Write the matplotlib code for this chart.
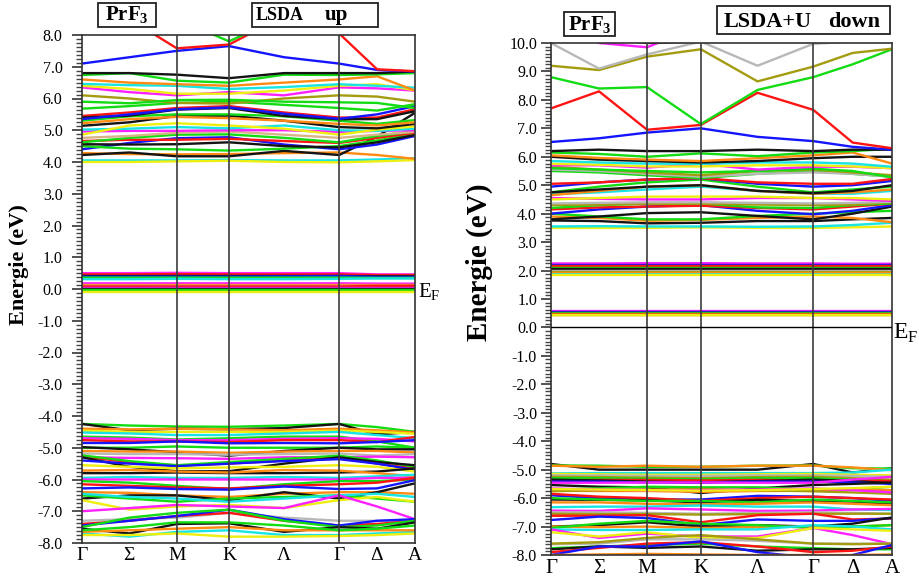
import matplotlib
matplotlib.use('Agg')
import matplotlib.pyplot as plt
from matplotlib.patches import Rectangle
from matplotlib.ticker import MultipleLocator, FormatStrFormatter

plt.rcParams['font.family'] = ['Liberation Serif', 'DejaVu Serif']
plt.rcParams['mathtext.fontset'] = 'custom'
plt.rcParams['mathtext.rm'] = 'Liberation Serif'
plt.rcParams['mathtext.bf'] = 'Liberation Serif:bold'

# k-path: Gamma - Sigma - M - K - Lambda - Gamma - Delta - A
k_labels = ['Γ', 'Σ', 'M', 'K', 'Λ', 'Γ', 'Δ', 'A']
k_up = [0.0, 0.5, 1.0, 1.55, 2.13, 2.71, 3.11, 3.51]
k_dn = [0.0, 0.5, 1.0, 1.56, 2.15, 2.73, 3.14, 3.55]
sym_idx = [2, 3, 5]

palette = {'k': '#141414', 'r': '#ff1414', 'g': '#14dc14', 'b': '#1414ff',
           'c': '#18e4e4', 'm': '#ff20ff', 'y': '#eeee10', 'o': '#ff8a14',
           'v': '#a49c10', 's': '#b8b8b8', 't': '#d8b488'}

# ---- LSDA spin up (eV) ----
up_bands = [
    # conduction
    [4.05, 4.05, 4.05, 4.06, 4.05, 4.05, 4.08, 4.12],
    [4.00, 4.00, 4.02, 4.04, 4.00, 3.99, 4.02, 4.06],
    [4.28, 4.25, 4.24, 4.25, 4.28, 4.30, 4.22, 4.10],
    [4.22, 4.30, 4.18, 4.18, 4.35, 4.22, 4.80, 5.55],
    [4.40, 4.60, 4.75, 4.78, 4.55, 4.40, 4.55, 4.82],
    [4.50, 4.42, 4.40, 4.36, 4.42, 4.50, 4.68, 4.88],
    [4.56, 4.55, 4.56, 4.62, 4.50, 4.46, 4.62, 4.85],
    [4.66, 4.70, 4.70, 4.73, 4.66, 4.60, 4.76, 4.92],
    [4.62, 4.76, 4.86, 4.87, 4.76, 4.62, 4.82, 4.96],
    [4.76, 4.82, 4.92, 4.96, 4.86, 4.76, 4.86, 4.95],
    [4.96, 4.98, 4.98, 5.00, 5.00, 4.95, 4.98, 5.00],
    [5.02, 5.05, 5.10, 5.06, 5.15, 5.00, 4.98, 5.05],
    [4.86, 5.15, 5.22, 5.15, 5.05, 4.86, 5.02, 5.12],
    [5.14, 5.25, 5.45, 5.46, 5.30, 5.10, 5.06, 5.20],
    [5.30, 5.44, 5.50, 5.50, 5.44, 5.30, 5.20, 5.32],
    [5.22, 5.35, 5.42, 5.38, 5.30, 5.20, 5.15, 5.25],
    [5.45, 5.56, 5.70, 5.76, 5.56, 5.40, 5.40, 5.66],
    [5.40, 5.46, 5.65, 5.70, 5.45, 5.35, 5.35, 5.60],
    [5.35, 5.50, 5.66, 5.72, 5.52, 5.36, 5.50, 5.76],
    [5.68, 5.76, 5.86, 5.90, 5.80, 5.70, 5.62, 5.82],
    [6.10, 6.00, 5.86, 5.84, 6.00, 6.10, 6.06, 5.90],
    [5.90, 5.85, 5.95, 5.96, 5.90, 5.88, 5.86, 5.70],
    [6.35, 6.20, 6.10, 6.20, 6.10, 6.35, 6.32, 6.25],
    [6.40, 6.30, 6.15, 6.15, 6.25, 6.40, 6.45, 6.26],
    [6.46, 6.42, 6.40, 6.30, 6.36, 6.45, 6.40, 6.34],
    [6.60, 6.50, 6.45, 6.40, 6.50, 6.60, 6.70, 6.25],
    [6.74, 6.80, 6.56, 6.50, 6.75, 6.74, 6.76, 6.80],
    [6.80, 6.80, 6.75, 6.64, 6.80, 6.80, 6.80, 6.85],
    [7.10, 7.30, 7.50, 7.65, 7.30, 7.10, 6.90, 6.85],
    [9.20, 8.50, 7.58, 7.70, 8.60, 9.30, 9.30, 9.30],
    [9.00, 8.90, 8.50, 7.80, 8.60, 9.00, 9.00, 9.00],
    [9.60, 9.60, 9.40, 9.40, 8.80, 8.05, 6.92, 6.86],
    # 4f states around E_F
    [0.50, 0.50, 0.51, 0.50, 0.50, 0.50, 0.46, 0.46],
    [0.46, 0.46, 0.47, 0.46, 0.46, 0.46, 0.44, 0.44],
    [0.41, 0.41, 0.41, 0.41, 0.41, 0.41, 0.40, 0.40],
    [0.39, 0.39, 0.39, 0.39, 0.40, 0.41, 0.38, 0.38],
    [0.36, 0.36, 0.36, 0.36, 0.36, 0.36, 0.35, 0.35],
    [0.31, 0.31, 0.32, 0.31, 0.31, 0.32, 0.33, 0.33],
    [0.18, 0.18, 0.18, 0.18, 0.18, 0.18, 0.17, 0.17],
    [0.13, 0.13, 0.13, 0.13, 0.13, 0.13, 0.13, 0.13],
    [0.10, 0.10, 0.10, 0.10, 0.10, 0.10, 0.10, 0.10],
    [0.08, 0.08, 0.08, 0.08, 0.08, 0.08, 0.10, 0.10],
    [0.04, 0.04, 0.04, 0.04, 0.04, 0.04, 0.04, 0.04],
    [0.00, 0.00, 0.00, 0.00, 0.00, 0.00, 0.00, 0.00],
    [-0.03, -0.03, -0.03, -0.03, -0.03, -0.03, -0.03, -0.03],
    [-0.08, -0.08, -0.08, -0.08, -0.08, -0.08, -0.08, -0.08],
    # valence
    [-4.25, -4.30, -4.33, -4.34, -4.30, -4.25, -4.35, -4.50],
    [-4.25, -4.45, -4.40, -4.42, -4.38, -4.25, -4.58, -4.50],
    [-4.40, -4.42, -4.40, -4.42, -4.45, -4.40, -4.45, -4.52],
    [-4.46, -4.50, -4.50, -4.50, -4.50, -4.46, -4.50, -4.56],
    [-4.52, -4.55, -4.60, -4.60, -4.55, -4.50, -4.60, -4.70],
    [-4.65, -4.68, -4.74, -4.70, -4.65, -4.65, -4.80, -5.00],
    [-4.70, -4.72, -4.76, -4.76, -4.72, -4.70, -4.72, -4.80],
    [-4.76, -4.80, -4.80, -4.82, -4.76, -4.76, -4.82, -4.66],
    [-4.85, -4.85, -4.80, -4.86, -4.85, -4.86, -4.82, -4.76],
    [-5.00, -5.00, -4.96, -5.00, -5.00, -5.00, -4.96, -5.00],
    [-4.98, -5.05, -5.14, -5.25, -5.10, -5.00, -5.05, -5.05],
    [-5.10, -5.12, -5.12, -5.16, -5.12, -5.10, -5.10, -5.15],
    [-5.18, -5.20, -5.20, -5.22, -5.20, -5.18, -5.25, -5.20],
    [-5.30, -5.32, -5.33, -5.35, -5.30, -5.30, -5.28, -5.30],
    [-5.28, -5.45, -5.56, -5.50, -5.40, -5.30, -5.50, -5.65],
    [-5.24, -5.42, -5.55, -5.45, -5.35, -5.25, -5.40, -5.60],
    [-5.30, -5.60, -5.74, -5.74, -5.50, -5.30, -5.45, -5.55],
    [-5.40, -5.50, -5.58, -5.50, -5.42, -5.36, -5.50, -5.70],
    [-5.55, -5.60, -5.65, -5.62, -5.60, -5.55, -5.60, -5.75],
    [-5.80, -5.80, -5.78, -5.80, -5.80, -5.78, -5.75, -5.65],
    [-5.72, -5.70, -5.75, -5.78, -5.70, -5.72, -5.80, -5.90],
    [-5.95, -5.92, -5.95, -5.95, -5.92, -5.95, -5.90, -5.85],
    [-6.00, -6.00, -6.00, -6.00, -6.00, -6.00, -5.95, -5.95],
    [-6.05, -6.10, -6.20, -6.30, -6.15, -6.05, -6.05, -6.00],
    [-6.15, -6.20, -6.25, -6.28, -6.20, -6.15, -6.10, -5.95],
    [-6.28, -6.25, -6.30, -6.32, -6.22, -6.30, -6.28, -6.02],
    [-6.40, -6.42, -6.50, -6.55, -6.45, -6.40, -6.40, -6.45],
    [-6.60, -6.50, -6.50, -6.65, -6.40, -6.60, -6.40, -6.12],
    [-6.50, -6.60, -6.70, -6.60, -6.55, -6.50, -6.60, -6.70],
    [-6.65, -6.95, -6.85, -6.80, -6.90, -6.65, -6.55, -6.70],
    [-6.45, -6.55, -6.60, -6.70, -6.60, -6.50, -6.45, -6.55],
    [-7.00, -6.90, -6.80, -6.85, -6.90, -6.50, -6.85, -7.25],
    [-7.30, -7.25, -7.20, -7.05, -7.20, -7.30, -7.30, -7.30],
    [-7.40, -7.30, -7.15, -7.05, -7.30, -7.45, -7.40, -7.30],
    [-7.45, -7.30, -7.15, -6.95, -7.25, -7.45, -7.30, -7.25],
    [-7.50, -7.20, -7.05, -6.95, -7.30, -7.50, -7.45, -7.30],
    [-7.55, -7.70, -7.40, -7.38, -7.65, -7.50, -7.55, -7.35],
    [-7.70, -7.80, -7.65, -7.60, -7.75, -7.75, -7.70, -7.65],
    [-7.75, -7.75, -7.70, -7.80, -7.80, -7.78, -7.75, -7.70],
    [-7.65, -7.60, -7.55, -7.50, -7.60, -7.60, -7.60, -7.60],
    [-7.60, -7.50, -7.35, -7.35, -7.45, -7.60, -7.55, -7.45],
]
up_colors = (
    'c y o k b g k r g t m c y k g o r k b g v g m y c o g k b r g r'.split()
    + 'm r k b g c m o s r m k g y'.split()
    + 'g k o y c g m r b g k o s m r g k b y k o c m g r b o k g y c m s r b g k c y o g'.split()
)

# ---- LSDA+U spin down (eV) ----
dn_bands = [
    # conduction
    [3.50, 3.50, 3.50, 3.52, 3.50, 3.50, 3.52, 3.55],
    [3.55, 3.56, 3.55, 3.55, 3.54, 3.55, 3.60, 3.68],
    [3.76, 3.74, 3.66, 3.68, 3.74, 3.74, 3.80, 3.85],
    [3.90, 3.85, 3.75, 3.78, 3.85, 3.90, 3.85, 3.70],
    [4.00, 3.90, 3.80, 3.80, 3.92, 4.00, 4.05, 4.10],
    [3.80, 3.90, 4.02, 4.05, 3.92, 3.80, 4.00, 4.25],
    [4.00, 4.15, 4.25, 4.30, 4.10, 3.98, 4.10, 4.30],
    [4.15, 4.22, 4.25, 4.28, 4.20, 4.15, 4.25, 4.35],
    [4.20, 4.30, 4.35, 4.36, 4.22, 4.20, 4.30, 4.36],
    [4.30, 4.32, 4.35, 4.35, 4.32, 4.30, 4.32, 4.40],
    [4.36, 4.38, 4.40, 4.40, 4.38, 4.36, 4.38, 4.42],
    [4.55, 4.52, 4.50, 4.50, 4.55, 4.55, 4.50, 4.45],
    [4.50, 4.55, 4.60, 4.60, 4.60, 4.55, 4.55, 4.50],
    [4.68, 4.75, 4.85, 4.95, 4.80, 4.70, 4.70, 4.80],
    [4.65, 4.80, 4.95, 5.00, 4.80, 4.70, 4.75, 4.85],
    [4.75, 4.95, 5.10, 5.20, 4.95, 4.75, 4.85, 4.95],
    [4.75, 4.85, 4.95, 5.00, 4.80, 4.72, 4.80, 5.00],
    [4.95, 5.10, 5.20, 5.25, 5.05, 4.95, 5.00, 5.15],
    [5.05, 5.10, 5.20, 5.25, 5.10, 5.05, 5.05, 5.22],
    [5.50, 5.45, 5.35, 5.25, 5.40, 5.50, 5.40, 5.30],
    [5.55, 5.50, 5.40, 5.30, 5.40, 5.45, 5.40, 5.30],
    [5.65, 5.55, 5.45, 5.35, 5.50, 5.55, 5.45, 5.35],
    [5.60, 5.55, 5.50, 5.45, 5.50, 5.58, 5.50, 5.28],
    [5.70, 5.70, 5.62, 5.75, 5.55, 5.65, 5.65, 5.60],
    [5.75, 5.72, 5.66, 5.66, 5.70, 5.70, 5.66, 5.60],
    [5.85, 5.80, 5.76, 5.75, 5.80, 5.80, 5.76, 5.65],
    [6.00, 5.90, 5.85, 5.80, 5.85, 5.95, 6.00, 6.00],
    [6.05, 5.96, 5.90, 5.85, 5.95, 6.05, 6.15, 5.76],
    [6.15, 6.10, 6.00, 6.12, 6.02, 6.15, 6.20, 6.28],
    [6.20, 6.25, 6.20, 6.20, 6.25, 6.20, 6.25, 6.25],
    [6.52, 6.65, 6.85, 7.00, 6.70, 6.55, 6.35, 6.25],
    [7.70, 8.30, 6.95, 7.12, 8.25, 7.65, 6.50, 6.30],
    [8.80, 8.40, 8.45, 7.15, 8.35, 8.80, 9.25, 9.78],
    [9.20, 9.05, 9.52, 9.78, 8.65, 9.17, 9.65, 9.80],
    [10.00, 9.10, 9.60, 10.05, 9.20, 9.97, 10.05, 10.20],
    [10.80, 10.00, 9.85, 10.60, 10.80, 10.80, 10.80, 10.80],
    [10.30, 10.15, 10.00, 10.05, 10.30, 10.30, 10.30, 10.30],
    # localised 4f states
    [2.25, 2.25, 2.26, 2.26, 2.25, 2.25, 2.24, 2.24],
    [2.20, 2.20, 2.20, 2.20, 2.20, 2.20, 2.20, 2.20],
    [2.15, 2.15, 2.15, 2.15, 2.15, 2.15, 2.15, 2.15],
    [2.10, 2.10, 2.10, 2.10, 2.10, 2.10, 2.10, 2.10],
    [2.05, 2.05, 2.05, 2.05, 2.05, 2.05, 2.05, 2.05],
    [2.00, 2.00, 2.00, 2.00, 2.00, 2.00, 2.00, 2.00],
    [1.95, 1.95, 1.95, 1.95, 1.95, 1.95, 1.95, 1.95],
    [1.90, 1.90, 1.90, 1.90, 1.90, 1.90, 1.90, 1.90],
    [1.87, 1.87, 1.87, 1.87, 1.87, 1.87, 1.86, 1.86],
    [1.85, 1.85, 1.85, 1.85, 1.85, 1.85, 1.85, 1.85],
    [0.58, 0.58, 0.58, 0.58, 0.58, 0.58, 0.58, 0.58],
    [0.55, 0.55, 0.55, 0.55, 0.55, 0.55, 0.55, 0.55],
    [0.52, 0.52, 0.52, 0.52, 0.52, 0.52, 0.52, 0.52],
    [0.50, 0.50, 0.50, 0.50, 0.50, 0.50, 0.50, 0.50],
    [0.48, 0.48, 0.48, 0.48, 0.48, 0.48, 0.48, 0.48],
    [0.45, 0.45, 0.45, 0.45, 0.45, 0.45, 0.45, 0.45],
    [0.43, 0.43, 0.43, 0.43, 0.43, 0.43, 0.43, 0.43],
    [0.42, 0.42, 0.42, 0.42, 0.42, 0.42, 0.42, 0.42],
    # valence
    [-4.80, -5.00, -5.00, -5.00, -5.00, -4.80, -5.10, -4.95],
    [-4.85, -4.86, -4.90, -4.90, -4.86, -4.85, -4.95, -4.96],
    [-4.86, -4.90, -4.86, -4.90, -4.86, -4.86, -4.92, -5.02],
    [-5.13, -5.12, -5.12, -5.12, -5.12, -5.12, -5.10, -5.00],
    [-5.15, -5.16, -5.18, -5.18, -5.16, -5.15, -5.18, -5.20],
    [-5.20, -5.20, -5.22, -5.22, -5.20, -5.20, -5.22, -5.25],
    [-5.25, -5.26, -5.28, -5.30, -5.26, -5.25, -5.30, -5.35],
    [-5.30, -5.30, -5.32, -5.34, -5.30, -5.30, -5.35, -5.42],
    [-5.38, -5.36, -5.36, -5.38, -5.36, -5.38, -5.38, -5.40],
    [-5.35, -5.38, -5.42, -5.45, -5.40, -5.35, -5.40, -5.48],
    [-5.42, -5.42, -5.45, -5.45, -5.42, -5.42, -5.45, -5.50],
    [-5.46, -5.46, -5.45, -5.45, -5.46, -5.46, -5.35, -5.25],
    [-5.54, -5.60, -5.62, -5.82, -5.66, -5.54, -5.50, -5.45],
    [-5.70, -5.66, -5.60, -5.62, -5.62, -5.70, -5.68, -5.60],
    [-5.74, -5.75, -5.75, -5.78, -5.75, -5.74, -5.70, -5.72],
    [-5.76, -5.72, -5.70, -5.68, -5.72, -5.76, -5.80, -5.85],
    [-5.66, -5.70, -5.72, -5.72, -5.70, -5.66, -5.72, -5.80],
    [-5.68, -5.70, -5.72, -5.74, -5.72, -5.68, -5.65, -5.60],
    [-5.90, -6.00, -6.05, -6.05, -5.92, -5.95, -6.00, -6.10],
    [-5.85, -5.95, -6.00, -6.10, -6.00, -5.95, -6.00, -6.05],
    [-6.05, -6.06, -6.08, -6.15, -6.06, -6.10, -6.12, -6.20],
    [-6.00, -6.05, -6.10, -6.10, -6.15, -6.05, -6.10, -6.15],
    [-6.15, -6.15, -6.20, -6.22, -6.20, -6.15, -6.20, -6.25],
    [-6.32, -6.30, -6.30, -6.26, -6.30, -6.30, -6.40, -6.42],
    [-6.44, -6.45, -6.36, -6.40, -6.45, -6.44, -6.40, -6.38],
    [-6.50, -6.50, -6.52, -6.55, -6.52, -6.50, -6.52, -6.55],
    [-6.55, -6.56, -6.56, -6.58, -6.56, -6.55, -6.55, -6.55],
    [-6.62, -6.62, -6.60, -6.85, -6.60, -6.55, -6.75, -6.72],
    [-6.77, -6.65, -6.70, -6.95, -6.75, -6.80, -6.80, -6.70],
    [-7.00, -6.95, -6.85, -7.00, -6.95, -7.00, -6.90, -6.68],
    [-7.00, -7.02, -7.00, -7.05, -7.02, -7.00, -7.00, -6.95],
    [-7.05, -6.90, -6.80, -6.90, -6.95, -7.05, -7.00, -6.95],
    [-7.10, -7.12, -7.12, -7.10, -7.10, -6.95, -7.00, -7.10],
    [-7.10, -7.40, -7.25, -7.35, -7.35, -7.05, -7.30, -7.62],
    [-7.20, -7.35, -7.20, -7.40, -7.40, -7.05, -7.10, -7.15],
    [-7.62, -7.60, -7.45, -7.45, -7.50, -7.60, -7.60, -7.60],
    [-7.60, -7.55, -7.40, -7.30, -7.45, -7.60, -7.62, -7.60],
    [-7.76, -7.70, -7.65, -7.60, -7.70, -7.76, -7.80, -7.80],
    [-7.80, -7.70, -7.75, -7.70, -7.85, -7.80, -7.80, -7.75],
    [-7.90, -7.75, -7.60, -7.55, -7.70, -7.90, -7.85, -7.70],
    [-8.00, -7.70, -7.70, -7.52, -7.90, -8.10, -8.00, -7.65],
    [-8.00, -7.98, -7.96, -7.98, -8.00, -8.00, -8.00, -7.98],
]
dn_colors = (
    'y c k o g k b r g v s m y c o g k b r g s v g m y c k o g k b r g v s m k'.split()
    + 'm b r g k s v o c y m b k g r v o y'.split()
    + 'k g o c y s v g r k b m k g o v m y b r k g o c m s v r b k o g c m y s v g k r b o'.split()
)

W, H = 920, 581
fig = plt.figure(figsize=(W / 100, H / 100), dpi=100)


def fx(px):
    return px / W


def fy(py):
    return 1 - py / H


def panel(ax, k, bands, colors, ylo, yhi, tick_fs, xlab_fs, tick_pad):
    for vals, c in zip(bands, colors):
        ax.plot(k, vals, color=palette[c], lw=1.7, solid_capstyle='butt', zorder=2)
    for i in sym_idx:
        ax.axvline(k[i], color='#3c3c3c', lw=1.2, zorder=3)
    ax.set_xlim(k[0], k[-1])
    ax.set_ylim(ylo, yhi)
    ax.set_xticks(k)
    ax.set_xticklabels(k_labels, fontsize=xlab_fs)
    ax.tick_params(axis='x', length=0, pad=3)
    ax.yaxis.set_major_locator(MultipleLocator(1.0))
    ax.yaxis.set_minor_locator(MultipleLocator(0.125))
    ax.yaxis.set_major_formatter(FormatStrFormatter('%.1f'))
    ax.tick_params(axis='y', which='major', direction='out', length=7, width=1.2,
                   labelsize=tick_fs, pad=tick_pad, color='#333333')
    ax.tick_params(axis='y', which='minor', direction='out', length=4.5, width=1.0,
                   color='#444444')
    for s in ax.spines.values():
        s.set_color('#333333')
        s.set_linewidth(1.2)


def boxed(x0, y0, x1, y1):
    fig.add_artist(Rectangle((fx(x0), fy(y1)), fx(x1) - fx(x0), fy(y0) - fy(y1),
                             transform=fig.transFigure, fc='white', ec='#222222', lw=1.3))


axL = fig.add_axes([fx(82), fy(543), fx(415) - fx(82), fy(35) - fy(543)])
panel(axL, k_up, up_bands, up_colors, -8.0, 8.0, 11.5, 14, 7)

axR = fig.add_axes([fx(551), fy(555), fx(892) - fx(551), fy(43) - fy(555)])
panel(axR, k_dn, dn_bands, dn_colors, -8.0, 10.0, 11.5, 15, 3)
axR.axhline(0.0, color='black', lw=1.0, zorder=3)

# axis titles
fig.text(fx(19), fy(265), 'Energie (eV)', rotation=90, ha='center', va='center',
         fontsize=16, fontweight='bold')
fig.text(fx(479), fy(262), 'Energie (eV)', rotation=90, ha='center', va='center',
         fontsize=21, fontweight='bold')

# Fermi level labels
fig.text(fx(418), fy(292), r'E$_\mathrm{F}$', ha='left', va='center', fontsize=15)
fig.text(fx(893), fy(333), r'E$_\mathrm{F}$', ha='left', va='center', fontsize=17)

# header boxes
boxed(98, 3, 156, 27)
fig.text(fx(127), fy(20), r'$\mathbf{PrF_3}$', ha='center', va='baseline', fontsize=15)
boxed(252, 3, 378, 27)
fig.text(fx(256), fy(20), 'LSDA', ha='left', va='baseline', fontsize=13, fontweight='bold')
fig.text(fx(325), fy(20), 'up', ha='left', va='baseline', fontsize=15, fontweight='bold')

boxed(564, 12, 615, 36)
fig.text(fx(589.5), fy(30), r'$\mathbf{PrF_3}$', ha='center', va='baseline', fontsize=15)
boxed(717, 6, 890, 34)
fig.text(fx(724), fy(27), 'LSDA+U', ha='left', va='baseline', fontsize=16, fontweight='bold')
fig.text(fx(828), fy(27), 'down', ha='left', va='baseline', fontsize=16, fontweight='bold')

fig.savefig('out.png', dpi=100)
